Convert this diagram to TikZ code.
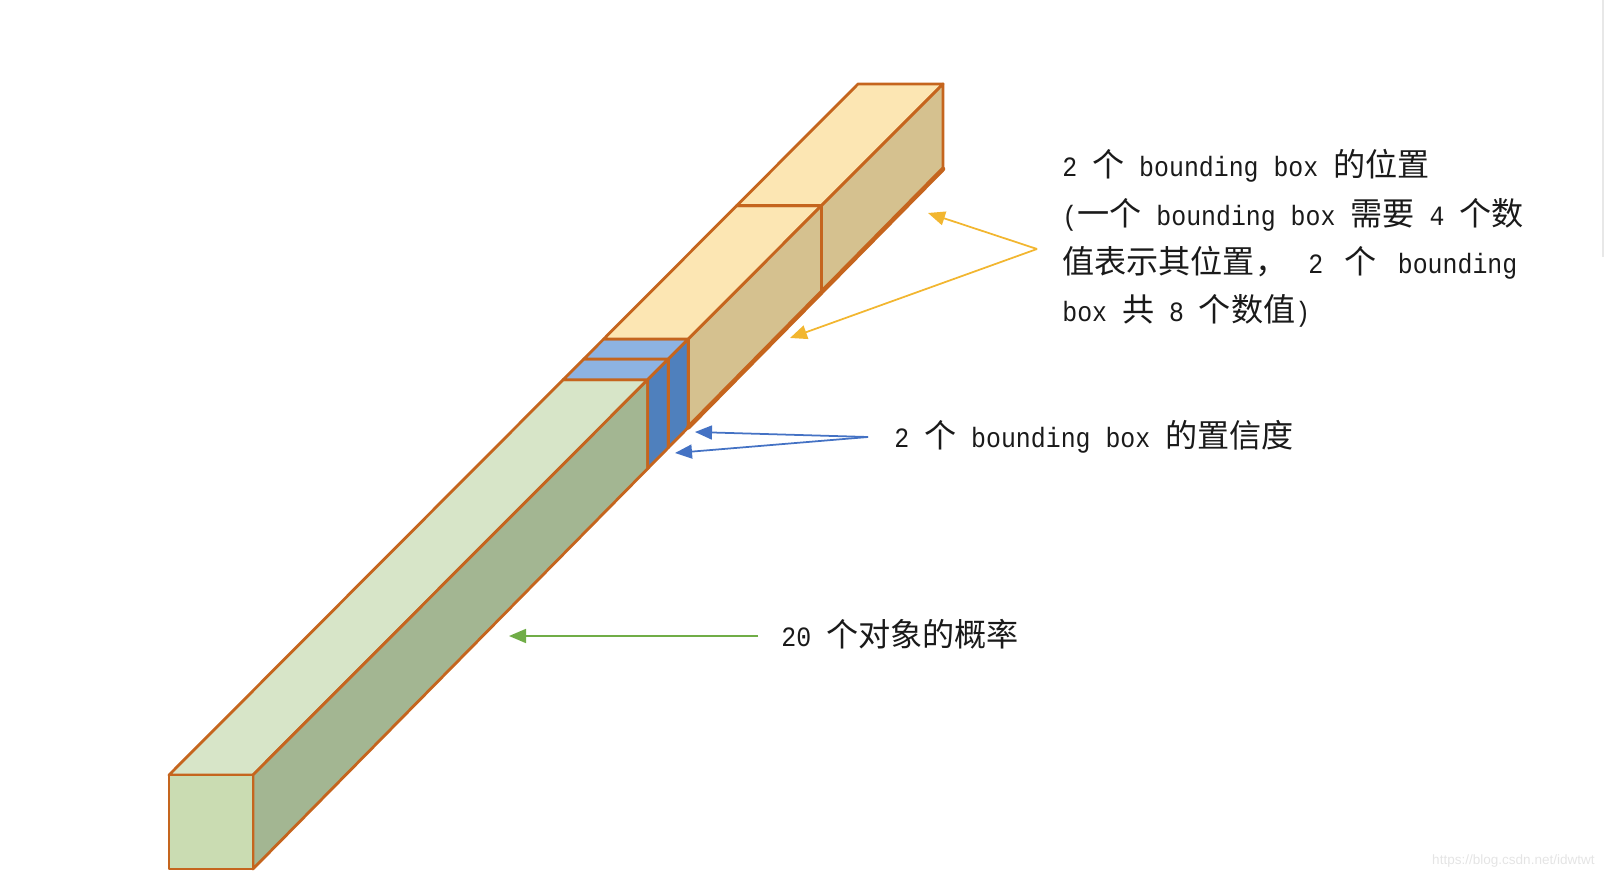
\documentclass[tikz,border=0pt]{standalone}
\usepackage{fontspec}
\setmainfont[FakeStretch=0.89]{Liberation Mono}
\newfontfamily\cjk[Scale=1.15]{Noto Sans CJK SC}
\newfontfamily\wmfont{Liberation Sans}
\newcommand{\C}[1]{{\cjk #1}}
\usetikzlibrary{calc,arrows.meta}
\definecolor{edgeC}{HTML}{C5651E}
\definecolor{gtop}{HTML}{D7E5C8}
\definecolor{gfront}{HTML}{CADCB2}
\definecolor{gside}{HTML}{A3B692}
\definecolor{ytop}{HTML}{FCE6B3}
\definecolor{yside}{HTML}{D5C18F}
\definecolor{btop}{HTML}{8DB3E2}
\definecolor{bside}{HTML}{4F80BD}
\definecolor{arrY}{HTML}{F2B630}
\definecolor{arrB}{HTML}{4472C4}
\definecolor{arrG}{HTML}{70AD47}
\definecolor{txt}{HTML}{1A1A1A}
\definecolor{wmC}{HTML}{E4E4E4}
\begin{document}
\begin{tikzpicture}[x=0.02cm,y=-0.02cm,
  face/.style={draw=edgeC, line width=1.6pt, line join=round},
  lbl/.style={anchor=base west, inner sep=0pt, font=\fontsize{15.9pt}{18pt}\selectfont, text=txt},
  tip/.style={-{Triangle[length=0.34cm,width=0.28cm]}},
  yarrow/.style={tip, draw=arrY, fill=arrY, line width=1pt},
  barrow/.style={tip, draw=arrB, fill=arrB, line width=1pt},
  garrow/.style={tip, draw=arrG, fill=arrG, line width=1pt}]
\useasboundingbox (0,0) rectangle (1606,878);
% box corners
\coordinate (A) at (169,775);
\coordinate (B) at (253,775);
\coordinate (C) at (253,869);
\coordinate (D) at (169,869);
\coordinate (E) at (858,84);
\coordinate (F) at (943,84);
\coordinate (G) at (943,169);
% sections
\foreach \ta/\tb/\ct/\cs in {0/0.572/gtop/gside, 0.572/0.602/btop/bside, 0.602/0.631/btop/bside, 0.631/0.824/ytop/yside, 0.824/1/ytop/yside} {
  \filldraw[face, fill=\ct] ($(A)!\ta!(E)$) -- ($(B)!\ta!(F)$) -- ($(B)!\tb!(F)$) -- ($(A)!\tb!(E)$) -- cycle;
  \filldraw[face, fill=\cs] ($(B)!\ta!(F)$) -- ($(B)!\tb!(F)$) -- ($(C)!\tb!(G)$) -- ($(C)!\ta!(G)$) -- cycle;
}
\filldraw[face, fill=gfront] (A) -- (B) -- (C) -- (D) -- cycle;
\draw[edgeC, line width=2.6pt, line cap=round] ($(C)!0.631!(G)$) -- (G);
% texts
\node[lbl] (t1) at (1062,177) {2 \C{个} bounding box \C{的位置}};
\node[lbl] (t2) at (1062,226) {(\C{一个} bounding box \C{需要} 4 \C{个数}};
\node[lbl] (t3) at (1062,274) {\makebox[9.1cm][l]{\C{值表示其位置，}\hfill 2\hfill\C{个}\hfill bounding}};
\node[lbl] (t4) at (1062,322) {box \C{共} 8 \C{个数值})};
\node[lbl] (tb) at (894,447) {2 \C{个} bounding box \C{的置信度}};
\node[lbl] (tg) at (781,646) {20 \C{个对象的概率}};
% arrows
\coordinate (yv) at (1037,249);
\coordinate (y1) at (928,213);
\coordinate (y2) at (790,338);
\draw[yarrow] (yv) -- (y1);
\draw[yarrow] (yv) -- (y2);
\coordinate (bv) at (868,437);
\coordinate (b1) at (695,432);
\coordinate (b2) at (675,453);
\draw[barrow] (bv) -- (b1);
\draw[barrow] (bv) -- (b2);
\coordinate (gv) at (758,636);
\coordinate (g1) at (509,636);
\draw[garrow] (gv) -- (g1);
% watermark and edge
\node[anchor=base east, inner sep=0pt, font=\wmfont\fontsize{7.7pt}{9pt}\selectfont, text=wmC] (wm) at (1595,864) {https://blog.csdn.net/idwtwt};
\draw[black!9, line width=0.6pt] (1603,0) -- (1603,257);
\end{tikzpicture}
\end{document}
